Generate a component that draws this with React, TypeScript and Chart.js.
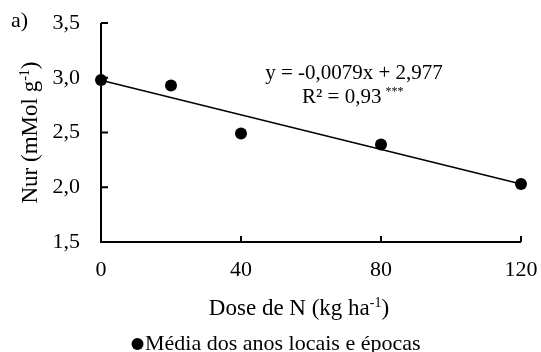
import { useEffect, useRef } from "react";
import { Chart, registerables } from "chart.js";

Chart.register(...registerables);

// Nitrogen dose (kg/ha) and mean Nur values
const doses = [0, 20, 40, 80, 120];
const nurValues = [2.98, 2.93, 2.49, 2.39, 2.03];

// Axis ticks
const xTicks = [0, 40, 80, 120];
const yTicks = [1.5, 2.0, 2.5, 3.0, 3.5];

// Linear fit reported on the chart
const slope = -0.0079;
const intercept = 2.977;
const equationLabel = "y = -0,0079x + 2,977";
const r2Label = "R² = 0,93";
const significance = "***";

// Texts
const panelLabel = "a)";
const legendLabel = "Média dos anos locais e épocas";
const xTitleParts = [{ t: "Dose de N (kg ha" }, { t: "-1", sup: true }, { t: ")" }];
const yTitleParts = [{ t: "Nur (mMol g" }, { t: "-1", sup: true }, { t: ")" }];

const FONT = '"Liberation Serif", "Times New Roman", serif';
const SIZE = 22;
const TITLE = 23;
const SUP = 14;

type Part = { t: string; sup?: boolean };

function drawRich(ctx: CanvasRenderingContext2D, parts: Part[], x: number, y: number, size: number) {
  const widths = parts.map((p) => {
    ctx.font = `${p.sup ? SUP : size}px ${FONT}`;
    return ctx.measureText(p.t).width;
  });
  const total = widths.reduce((a, b) => a + b, 0);
  let cx = x - total / 2;
  ctx.textAlign = "left";
  ctx.textBaseline = "alphabetic";
  parts.forEach((p, i) => {
    ctx.font = `${p.sup ? SUP : size}px ${FONT}`;
    ctx.fillText(p.t, cx, p.sup ? y - 8 : y);
    cx += widths[i];
  });
}

const noPadding = (s: any) => {
  s.paddingTop = 0;
  s.paddingBottom = 0;
  s.paddingLeft = 0;
  s.paddingRight = 0;
};

const framePlugin = {
  id: "frame",
  beforeDatasetsDraw(chart: any) {
    const { ctx, chartArea: a, scales } = chart;
    const x = scales.x;
    const y = scales.y;
    ctx.save();
    ctx.strokeStyle = "#000";
    ctx.lineWidth = 2;
    ctx.lineJoin = "miter";
    ctx.beginPath();
    ctx.moveTo(a.left, a.top);
    ctx.lineTo(a.left, a.bottom);
    ctx.lineTo(a.right, a.bottom);
    yTicks.forEach((v) => {
      if (v === yTicks[0]) return;
      const p = y.getPixelForValue(v);
      ctx.moveTo(a.left, p);
      ctx.lineTo(a.left + 7, p);
    });
    xTicks.forEach((v) => {
      if (v === xTicks[0]) return;
      const p = x.getPixelForValue(v);
      ctx.moveTo(p, a.bottom);
      ctx.lineTo(p, a.bottom - 6);
    });
    ctx.stroke();
    ctx.restore();
  },
  afterDraw(chart: any) {
    const { ctx, chartArea: a } = chart;
    ctx.save();
    ctx.fillStyle = "#000";

    // panel label
    ctx.font = `${SIZE}px ${FONT}`;
    ctx.textAlign = "left";
    ctx.textBaseline = "alphabetic";
    ctx.fillText(panelLabel, 11, 27);

    // regression equation
    ctx.font = `21px ${FONT}`;
    ctx.textAlign = "center";
    ctx.fillText(equationLabel, 354, 79);
    ctx.textAlign = "left";
    ctx.fillText(r2Label, 302, 103);
    const rw = ctx.measureText(r2Label).width;
    ctx.font = `12px ${FONT}`;
    ctx.fillText(significance, 302 + rw + 4, 95);

    // x title
    drawRich(ctx, xTitleParts, 299, 315, TITLE);

    // y title
    ctx.save();
    ctx.translate(37, (a.top + a.bottom) / 2);
    ctx.rotate(-Math.PI / 2);
    drawRich(ctx, yTitleParts, 0, 0, TITLE);
    ctx.restore();

    // legend
    ctx.font = `${SIZE}px ${FONT}`;
    ctx.beginPath();
    ctx.arc(137.5, 344, 6, 0, Math.PI * 2);
    ctx.fill();
    ctx.textAlign = "left";
    ctx.fillText(legendLabel, 145, 350);
    ctx.restore();
  },
};

export default function App() {
  const canvasRef = useRef<HTMLCanvasElement | null>(null);

  useEffect(() => {
    const canvas = canvasRef.current;
    if (!canvas) return;
    const xEnd = xTicks[xTicks.length - 1];
    const chart = new Chart(canvas, {
      type: "scatter",
      data: {
        datasets: [
          {
            label: "fit",
            data: [
              { x: xTicks[0], y: intercept + slope * xTicks[0] },
              { x: xEnd, y: intercept + slope * xEnd },
            ],
            showLine: true,
            borderColor: "#000",
            borderWidth: 1.5,
            pointRadius: 0,
            clip: false,
          } as any,
          {
            label: legendLabel,
            data: doses.map((d, i) => ({ x: d, y: nurValues[i] })),
            backgroundColor: "#000",
            borderWidth: 0,
            pointRadius: 6,
            clip: false,
          } as any,
        ],
      },
      options: {
        animation: false,
        responsive: false,
        devicePixelRatio: 1,
        layout: { padding: { top: 23, right: 20, left: 0, bottom: 0 } },
        plugins: { legend: { display: false }, tooltip: { enabled: false } },
        scales: {
          x: {
            type: "linear",
            min: xTicks[0],
            max: xEnd,
            afterBuildTicks: (s: any) => {
              s.ticks = xTicks.map((v) => ({ value: v }));
            },
            afterFit: (s: any) => {
              s.height = 110;
              noPadding(s);
            },
            grid: { display: false, drawTicks: false },
            border: { display: false },
            ticks: {
              padding: 15,
              color: "#000",
              font: { family: FONT, size: SIZE },
              callback: (v: any) => String(v),
            },
          },
          y: {
            type: "linear",
            min: yTicks[0],
            max: yTicks[yTicks.length - 1],
            afterBuildTicks: (s: any) => {
              s.ticks = yTicks.map((v) => ({ value: v }));
            },
            afterFit: (s: any) => {
              s.width = 101;
              noPadding(s);
            },
            grid: { display: false, drawTicks: false },
            border: { display: false },
            ticks: {
              padding: 21,
              color: "#000",
              font: { family: FONT, size: SIZE },
              callback: (v: any) => Number(v).toFixed(1).replace(".", ","),
            },
          },
        },
      },
      plugins: [framePlugin],
    });
    return () => chart.destroy();
  }, []);

  return (
    <div style={{ position: "fixed", left: 0, top: 0, width: 541, height: 352, background: "#fff" }}>
      <canvas ref={canvasRef} width={541} height={352} />
    </div>
  );
}
